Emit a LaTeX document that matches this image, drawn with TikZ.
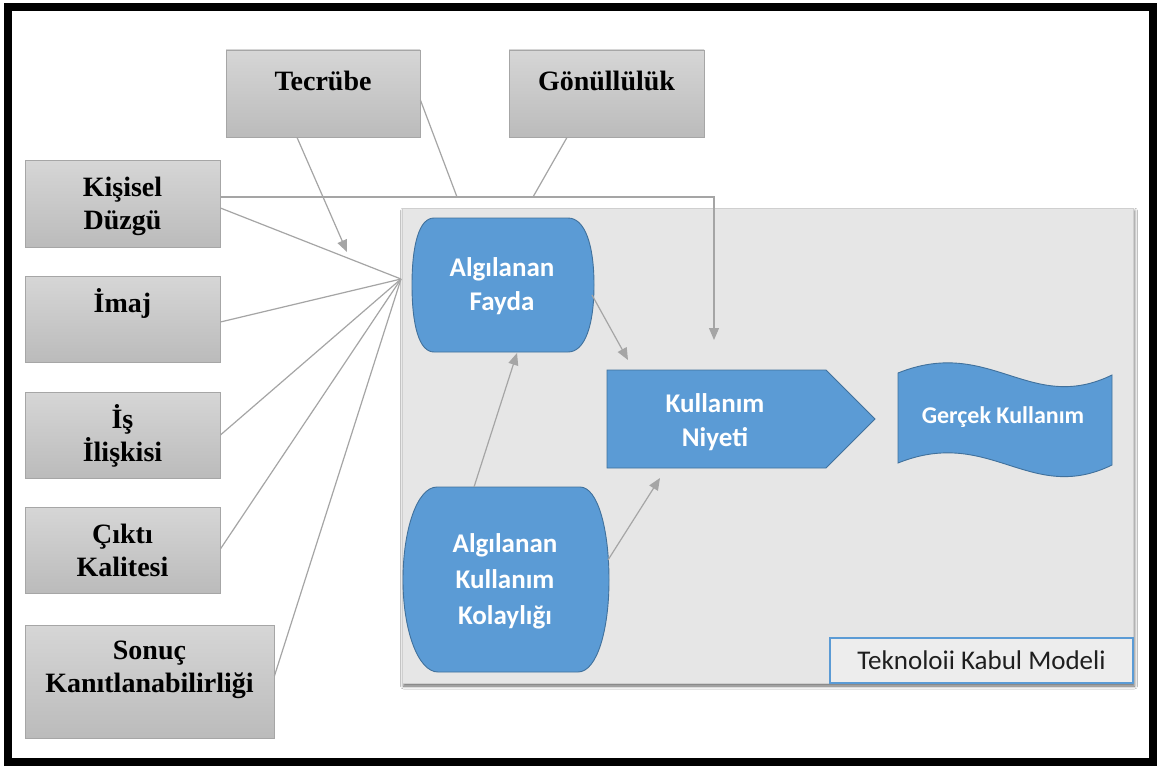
\documentclass[tikz,border=0pt]{standalone}
\usepackage{fontspec}
\setmainfont{Liberation Serif}
\newfontfamily\calfont{Carlito}
\usetikzlibrary{arrows.meta,shadows.blur,calc}

\definecolor{boxtop}{HTML}{D6D6D6}
\definecolor{boxbot}{HTML}{BBBBBB}
\definecolor{boxedge}{HTML}{A6A6A6}
\definecolor{panelfill}{HTML}{E6E6E6}
\definecolor{paneledge}{HTML}{CFCFCF}
\definecolor{tamblue}{HTML}{5B9BD5}
\definecolor{tamedge}{HTML}{41719C}
\definecolor{linkgray}{HTML}{A5A5A5}
\definecolor{capgray}{HTML}{1F1F1F}

\newcommand\twoln[2]{\begin{tabular}[t]{@{}c@{}}#1\\#2\end{tabular}}
\newcommand\threeln[3]{\begin{tabular}[t]{@{}c@{}}#1\\#2\\#3\end{tabular}}

\begin{document}
\begin{tikzpicture}[x=1pt,y=-1pt,
  graybox/.style={draw=boxedge, line width=0.8pt, top color=boxtop, bottom color=boxbot,
    minimum width=195pt, minimum height=87pt, inner sep=0pt},
  serif/.style={font=\bfseries\fontsize{28}{33}\selectfont, text=black, anchor=base, inner sep=0pt},
  bluelbl/.style={font=\calfont\bfseries\fontsize{27}{34}\selectfont, text=white, anchor=base, inner sep=0pt},
  blueshape/.style={fill=tamblue, draw=tamedge, line width=0.9pt},
  link/.style={draw=linkgray, line width=1.2pt},
  arr/.style={link, -{Triangle[length=12pt,width=10pt]}},
]
\useasboundingbox (0,0) rectangle (1158,765);
\fill[white] (0,0) rectangle (1158,765);

% outer frame
\draw[black, line width=8.5pt] (8,7) rectangle (1153,762);

% technology acceptance model panel
\node[draw=paneledge, fill=panelfill, line width=0.8pt, minimum width=731pt, minimum height=475pt,
  blur shadow={shadow xshift=1.5pt, shadow yshift=-3pt, shadow blur radius=3pt, shadow opacity=60}]
  (tam) at (767.5,445.5) {};
\node[draw=tamblue, fill=panelfill!70!white, line width=1.4pt, minimum width=303pt, minimum height=45pt,
  inner sep=0pt, font=\calfont\fontsize{27}{32}\selectfont, text=capgray]
  (tkm) at (981.5,660.5) {Teknoloii Kabul Modeli};

% external variables
\node[graybox, minimum width=194pt] (tec) at (323,93.5) {};
\node[graybox] (gon) at (606.5,93.5) {};
\node[graybox] (kd) at (122.5,203.5) {};
\node[graybox, minimum height=86pt] (im) at (122.5,319) {};
\node[graybox, minimum height=86pt] (is) at (122.5,435) {};
\node[graybox, minimum height=86pt] (ck) at (122.5,550) {};
\node[graybox, minimum width=249pt, minimum height=113pt] (sk) at (149.5,681.5) {};

\node[serif] (tect) at (323,91) {Tecrübe};
\node[serif] (gont) at (606.5,91) {Gönüllülük};
\node[serif] (kdt) at (122.5,196) {\twoln{Kişisel}{Düzgü}};
\node[serif] (imt) at (122.5,312) {İmaj};
\node[serif] (ist) at (122.5,428) {\twoln{İş}{İlişkisi}};
\node[serif] (ckt) at (122.5,543) {\twoln{Çıktı}{Kalitesi}};
\node[serif] (skt) at (149.5,659) {\twoln{Sonuç}{Kanıtlanabilirliği}};

% model constructs
\path[blueshape] (434,218) -- (568,218)
  .. controls (585,218) and (594,245) .. (594,285)
  .. controls (594,325) and (585,352) .. (568,352)
  -- (434,352)
  .. controls (419,352) and (412,325) .. (412,285)
  .. controls (412,245) and (419,218) .. (434,218) -- cycle;
\path[blueshape] (437,487) -- (580,487)
  .. controls (598,487) and (609,530) .. (609,580)
  .. controls (609,630) and (597,672) .. (578,672)
  -- (438,672)
  .. controls (418,672) and (403,630) .. (403,580)
  .. controls (403,530) and (417,487) .. (437,487) -- cycle;
\path[blueshape] (607,370) -- (826,370) -- (875,419) -- (826,468) -- (607,468) -- cycle;
\path[blueshape] (898,373) .. controls (990,336) and (1030,415) .. (1112,375)
  -- (1112,465) .. controls (1030,505) and (990,426) .. (898,463) -- cycle;

\node[bluelbl] (af) at (502,276) {\twoln{Algılanan}{Fayda}};
\node[bluelbl] (kn) at (715,412) {\twoln{Kullanım}{Niyeti}};
\node[bluelbl, font=\calfont\bfseries\fontsize{27}{36}\selectfont] (akk) at (505,552)
  {\threeln{Algılanan}{Kullanım}{Kolaylığı}};
\node[bluelbl, font=\calfont\bfseries\fontsize{24}{30}\selectfont] (gk) at (1003,423) {Gerçek Kullanım};

% connection points
\coordinate (hub) at (401,279);
\coordinate (j1) at (457,197);
\coordinate (j2) at (533,197);
\coordinate (tecTip) at (347,252);
\coordinate (knTop) at (714,340);
\coordinate (afOut) at (592,295);
\coordinate (afIn) at (517,353);
\coordinate (knIn1) at (628,360);
\coordinate (akkTop) at (474,487);
\coordinate (akkOut) at (608,560);
\coordinate (knIn2) at (660,478);

% connectors
\draw[link] ([yshift=-4.5pt]kd.east) -- (hub);
\draw[link] ([yshift=-3pt]im.east) -- (hub);
\draw[link] (is.east) -- (hub);
\draw[link] ([yshift=1pt]ck.east) -- (hub);
\draw[link] ([yshift=5.5pt]sk.east) -- (hub);
\draw[arr] ([xshift=-26pt]tec.south) -- (tecTip);
\draw[link] ([yshift=-6.5pt]tec.east) -- (j1);
\draw[link] ([xshift=-39.5pt]gon.south) -- (j2);
\draw[arr] ([yshift=6.5pt]kd.east) -| (knTop);
\draw[arr] (afOut) -- (knIn1);
\draw[arr] (akkTop) -- (afIn);
\draw[arr] (akkOut) -- (knIn2);
\end{tikzpicture}
\end{document}
